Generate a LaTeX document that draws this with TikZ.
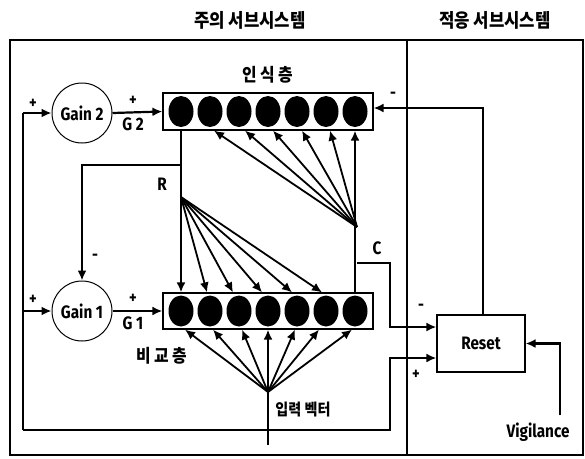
\documentclass[tikz,border=0pt]{standalone}
\usepackage{fontspec}
\usetikzlibrary{arrows.meta,shapes.geometric,calc}
\newfontfamily\latfont[FakeStretch=0.85]{Fira Sans}
\newfontfamily\kofont[FakeStretch=0.88]{Noto Sans CJK KR}
\tikzset{
  >={Latex[length=10pt,width=9pt]},
  conn/.style={line width=2.2pt},
  fan/.style={line width=1.8pt},
  frame/.style={line width=2.2pt},
  gainc/.style={circle,draw,line width=1pt,minimum size=60pt,inner sep=0pt,font=\latfont\bfseries\fontsize{18}{18}\selectfont},
  layer/.style={rectangle,draw,line width=1.2pt,inner sep=0pt},
  oval/.style={ellipse,fill=black,minimum width=25pt,minimum height=31pt,inner sep=0pt},
  resetbox/.style={rectangle,draw,line width=1.2pt,minimum width=88pt,minimum height=57pt,inner sep=0pt,font=\latfont\bfseries\fontsize{18}{18}\selectfont},
  lbl/.style={inner sep=0pt,font=\latfont\bfseries\fontsize{18}{18}\selectfont},
  sgn/.style={inner sep=0pt,font=\latfont\bfseries\fontsize{17}{17}\selectfont},
  ko/.style={inner sep=0pt,font=\kofont\bfseries\fontsize{18}{18}\selectfont},
  kot/.style={inner sep=0pt,font=\kofont\bfseries\fontsize{19}{19}\selectfont},
}
\begin{document}
\begin{tikzpicture}[x=1pt,y=-1pt]
\useasboundingbox (0,0) rectangle (585,458);
% frame
\draw[frame] (10,40) rectangle (583,455);
\draw[frame] (407,40) -- (407,455);
% titles
\node[kot] (t_att) at (250,20) {주의 서브시스템};
\node[kot] (t_ada) at (495,20) {적응 서브시스템};
% gains
\node[gainc] (gain2) at (82,113) {Gain 2};
\node[gainc] (gain1) at (82,311) {Gain 1};
% layers
\node[layer,minimum width=210pt,minimum height=37pt] (f2) at (268,111.5) {};
\node[layer,minimum width=210pt,minimum height=36pt] (f1) at (268,311) {};
\foreach \i in {1,...,7}{
  \node[oval] (t\i) at ({152+29*\i},111.5) {};
  \node[oval] (b\i) at ({152+29*\i},311) {};
}
\node[ko] (lf2) at (268,75) {인 식 층};
\node[ko] (lf1) at (162,356) {비 교 층};
% reset
\node[resetbox] (reset) at (481,343.5) {Reset};
\node[lbl] (vig) at (538,432) {Vigilance};
\node[ko,font=\kofont\bfseries\fontsize{16}{16}\selectfont] (inp) at (303,410) {입력 벡터};
% coordinates
\coordinate (cbl) at (23,430);
\coordinate (cg2) at (23,113);
\coordinate (cg1) at (23,311);
\coordinate (cbr) at (390,430);
\coordinate (cpr) at (390,358);
\coordinate (rj) at (181,165);
\coordinate (rf) at (181,197);
\coordinate (cf) at (357,227);
\coordinate (cj) at (357,263);
\coordinate (cr) at (390,263);
\coordinate (cq) at (390,327);
\coordinate (rtop) at (483,108);
\coordinate (vb) at (560,415);
\coordinate (ib) at (268,445);
\coordinate (ifn) at (268,392);
% gain inputs
\draw[conn] (cbl) -- (cg2);
\draw[conn,->] (cg2) -- (gain2.west);
\draw[conn,->] (cg1) -- (gain1.west);
\draw[conn,->] (cbl) -- (cbr) -- (cpr) -- (reset.west |- cpr);
% gain outputs
\draw[conn,->] (gain2.east) -- (f2.west);
\draw[conn,->] (gain1.east) -- (f1.west);
% R line
\draw[conn,->] (t1 |- f2.south) -- (b1 |- f1.north);
\draw[conn,->] (rj) -- (gain1.north |- rj) -- (gain1.north);
\foreach \i/\dx in {2/-3,3/-6,4/-6,5/-5,6/-4}
  \draw[fan,->] (rf) -- ([xshift=\dx pt]b\i |- f1.north);
% C line
\draw[conn,->] (b7 |- f1.north) -- (t7 |- f2.south);
\foreach \i/\dx in {2/4,3/6,4/5,5/5,6/4}
  \draw[fan,->] (cf) -- ([xshift=\dx pt]t\i |- f2.south);
\draw[conn,->] (cj) -- (cr) -- (cq) -- (reset.west |- cq);
% reset feedback
\draw[conn,->] (reset.north -| rtop) -- (rtop) -- (f2.east |- rtop);
% vigilance
\draw[conn,->] (vb) -- (vb |- reset.east) -- (reset.east);
% input
\draw[conn,->] (ib) -- (b4 |- f1.south);
\foreach \i/\dx in {1/4,2/3,3/3,5/-2,6/-7,7/-3}
  \draw[fan,->] (ifn) -- ([xshift=\dx pt]b\i |- f1.south);
% labels
\node[sgn] (p1) at (33,104) {+};
\node[sgn] (p2) at (133,101) {+};
\node[lbl] (g2) at (133,124) {G 2};
\node[sgn] (p3) at (33,300) {+};
\node[sgn] (p4) at (133,299) {+};
\node[lbl] (g1) at (133,323) {G 1};
\node[sgn] (m1) at (95,257) {-};
\node[lbl] (lr) at (162,184) {R};
\node[lbl] (lc) at (377,248) {C};
\node[sgn] (m2) at (393,95) {-};
\node[sgn] (m3) at (421,307) {-};
\node[sgn] (p5) at (416,375) {+};
\end{tikzpicture}
\end{document}
